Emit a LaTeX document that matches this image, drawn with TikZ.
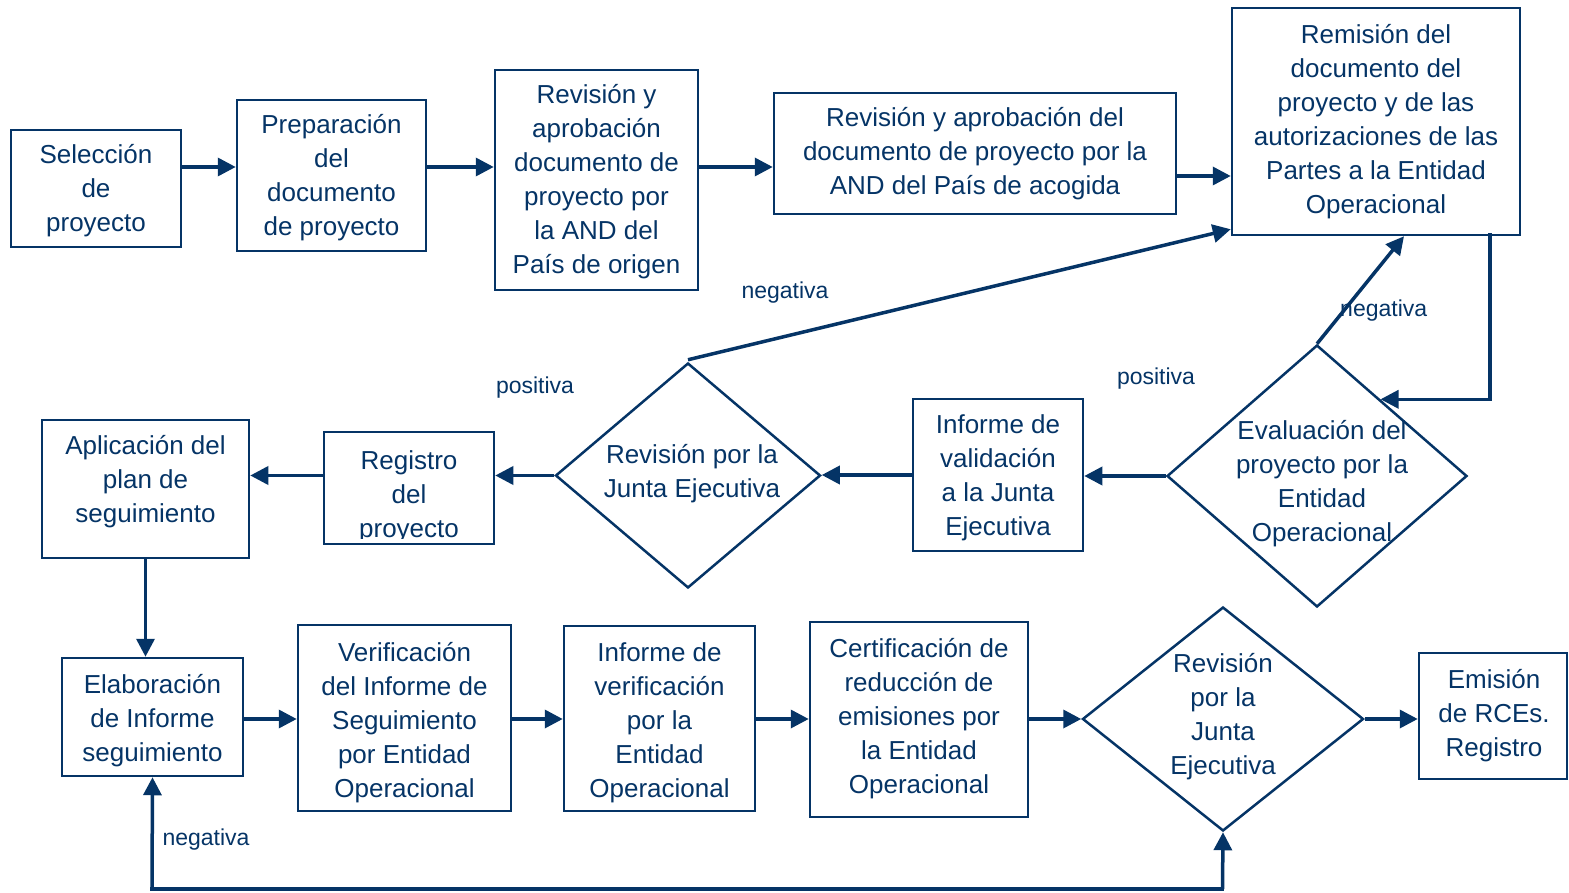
\documentclass[tikz,border=0pt]{standalone}
\usepackage{fontspec}
\setmainfont{Liberation Sans}
\usetikzlibrary{arrows.meta,shapes.geometric,calc}
\definecolor{navy}{RGB}{5,52,102}
\begin{document}
\begin{tikzpicture}[x=1pt,y=-1pt,
  box/.style={draw=navy, line width=2.5pt, text=navy, align=center, inner sep=0pt, font=\fontsize{26}{34}\selectfont},
  dia/.style={diamond, draw=navy, line width=2.5pt, inner sep=0pt},
  txt/.style={text=navy, align=center, inner sep=0pt, font=\fontsize{26}{34}\selectfont},
  lbl/.style={text=navy, inner sep=0pt, font=\fontsize{23}{28}\selectfont},
  arr/.style={draw=navy, line width=3.5pt, -{Triangle[length=18pt,width=18pt]}},
  ln/.style={draw=navy, line width=3.5pt}]
\useasboundingbox (0,0) rectangle (1569,893);

% row 1
\node[box, minimum width=170, minimum height=117] (sel) at (96,188.5) {};
\node[txt] (selt) at (96,190.5) {Selección\\de\\proyecto};
\node[box, minimum width=189, minimum height=151] (prep) at (331.5,175.5) {};
\node[txt] (prept) at (331.5,178) {Preparación\\del\\documento\\de proyecto};
\node[box, minimum width=203, minimum height=220] (rev1) at (596.5,180) {};
\node[txt] (rev1t) at (596.5,182) {Revisión y\\aprobación\\documento de\\proyecto por\\la AND del\\País de origen};
\node[box, minimum width=402, minimum height=121] (rev2) at (975,153.5) {Revisión y aprobación del\\documento de proyecto  por la\\AND del País de acogida};
\node[box, minimum width=288, minimum height=227] (rem) at (1376,121.5) {Remisión del\\documento del\\proyecto y de las\\autorizaciones de las\\Partes a la Entidad\\Operacional};

% row 2
\node[dia, minimum width=300, minimum height=262] (ev) at (1317,476) {};
\node[txt] (evt) at (1322,484) {Evaluación del\\proyecto por la\\Entidad\\Operacional};
\node[box, minimum width=170, minimum height=152] (val) at (998,475) {};
\node[txt] (valt) at (998,478) {Informe de\\validación\\a la Junta\\Ejecutiva};
\node[dia, minimum width=265, minimum height=225] (jd1) at (688,475.5) {};
\node[txt] (jd1t) at (692,474) {Revisión por la\\Junta Ejecutiva};
\node[box, minimum width=170, minimum height=112] (reg) at (409,488) {};
\begin{scope}
\clip (reg.north west) rectangle ([yshift=7pt]reg.south east);
\node[txt] (regt) at (409,496.5) {Registro\\del\\proyecto};
\end{scope}
\node[box, minimum width=207, minimum height=138] (apl) at (145.5,489) {};
\node[txt] (aplt) at (145.5,482) {Aplicación del\\plan de\\seguimiento};

% row 3
\node[box, minimum width=181, minimum height=118] (elab) at (152.5,717) {};
\node[txt] (elabt) at (152.5,721) {Elaboración\\de Informe\\seguimiento};
\node[box, minimum width=213, minimum height=186] (verif) at (404.5,718) {};
\node[txt] (verift) at (404.5,723) {Verificación\\del Informe de\\Seguimiento\\por Entidad\\Operacional};
\node[box, minimum width=191, minimum height=185] (inf) at (659.5,718.5) {};
\node[txt] (inft) at (659.5,723) {Informe de\\verificación\\por la\\Entidad\\Operacional};
\node[box, minimum width=218, minimum height=195] (cert) at (919,719.5) {};
\node[txt] (certt) at (919,718.5) {Certificación de\\reducción de\\emisiones por\\la Entidad\\Operacional};
\node[dia, minimum width=281, minimum height=224] (jd2) at (1223,719) {};
\node[txt] (jd2t) at (1223,717) {Revisión\\por la\\Junta\\Ejecutiva};
\node[box, minimum width=148, minimum height=126] (emi) at (1493,716) {};
\node[txt] (emit) at (1494,716) {Emisión\\de RCEs.\\Registro};

% labels
\node[lbl] (l1) at (785,293) {negativa};
\node[lbl, anchor=west] (l2) at (1340,311) {negativa};
\node[lbl] (l3) at (1156,379) {positiva};
\node[lbl] (l4) at (535,388) {positiva};
\node[lbl] (l5) at (206,840) {negativa};

% row 1 arrows
\draw[arr] (sel.east |- 0,167) -- (prep.west |- 0,167);
\draw[arr] (prep.east |- 0,167) -- (rev1.west |- 0,167);
\draw[arr] (rev1.east |- 0,167) -- (rev2.west |- 0,167);
\draw[arr] (rev2.east |- 0,176) -- (rem.west |- 0,176);

% row 2 arrows
\coordinate (evne) at ($(ev.north)!0.42!(ev.east)$);
\draw[arr] ([xshift=114pt,yshift=3pt]rem.south) -- ([xshift=114pt]rem.south |- evne) -- (evne);
\draw[arr] (ev.north) -- ([xshift=28pt]rem.south);
\draw[arr] (ev.west) -- (val.east |- ev.west);
\draw[arr] (val.west) -- (jd1.east |- val.west);
\draw[arr] ([yshift=2pt]jd1.north) -- ([yshift=7pt]rem.south west);
\draw[arr] (jd1.west) -- (reg.east |- jd1.west);
\draw[arr] (reg.west |- jd1.west) -- (apl.east |- jd1.west);
\draw[arr] (apl.south) -- (apl.south |- elab.north);

% row 3 arrows
\draw[arr] (elab.east |- 0,719) -- (verif.west |- 0,719);
\draw[arr] (verif.east |- 0,719) -- (inf.west |- 0,719);
\draw[arr] (inf.east |- 0,719) -- (cert.west |- 0,719);
\draw[arr] (cert.east |- 0,719) -- (jd2.west);
\draw[arr] (jd2.east) -- (emi.west |- jd2.east);

% loop
\coordinate (lb) at (152,889);
\coordinate (rb) at (1222.5,889);
\draw[ln, line cap=rect] (lb) -- (rb);
\draw[arr] (lb) -- (elab.south);
\draw[arr] (rb) -- (jd2.south);
\end{tikzpicture}
\end{document}
